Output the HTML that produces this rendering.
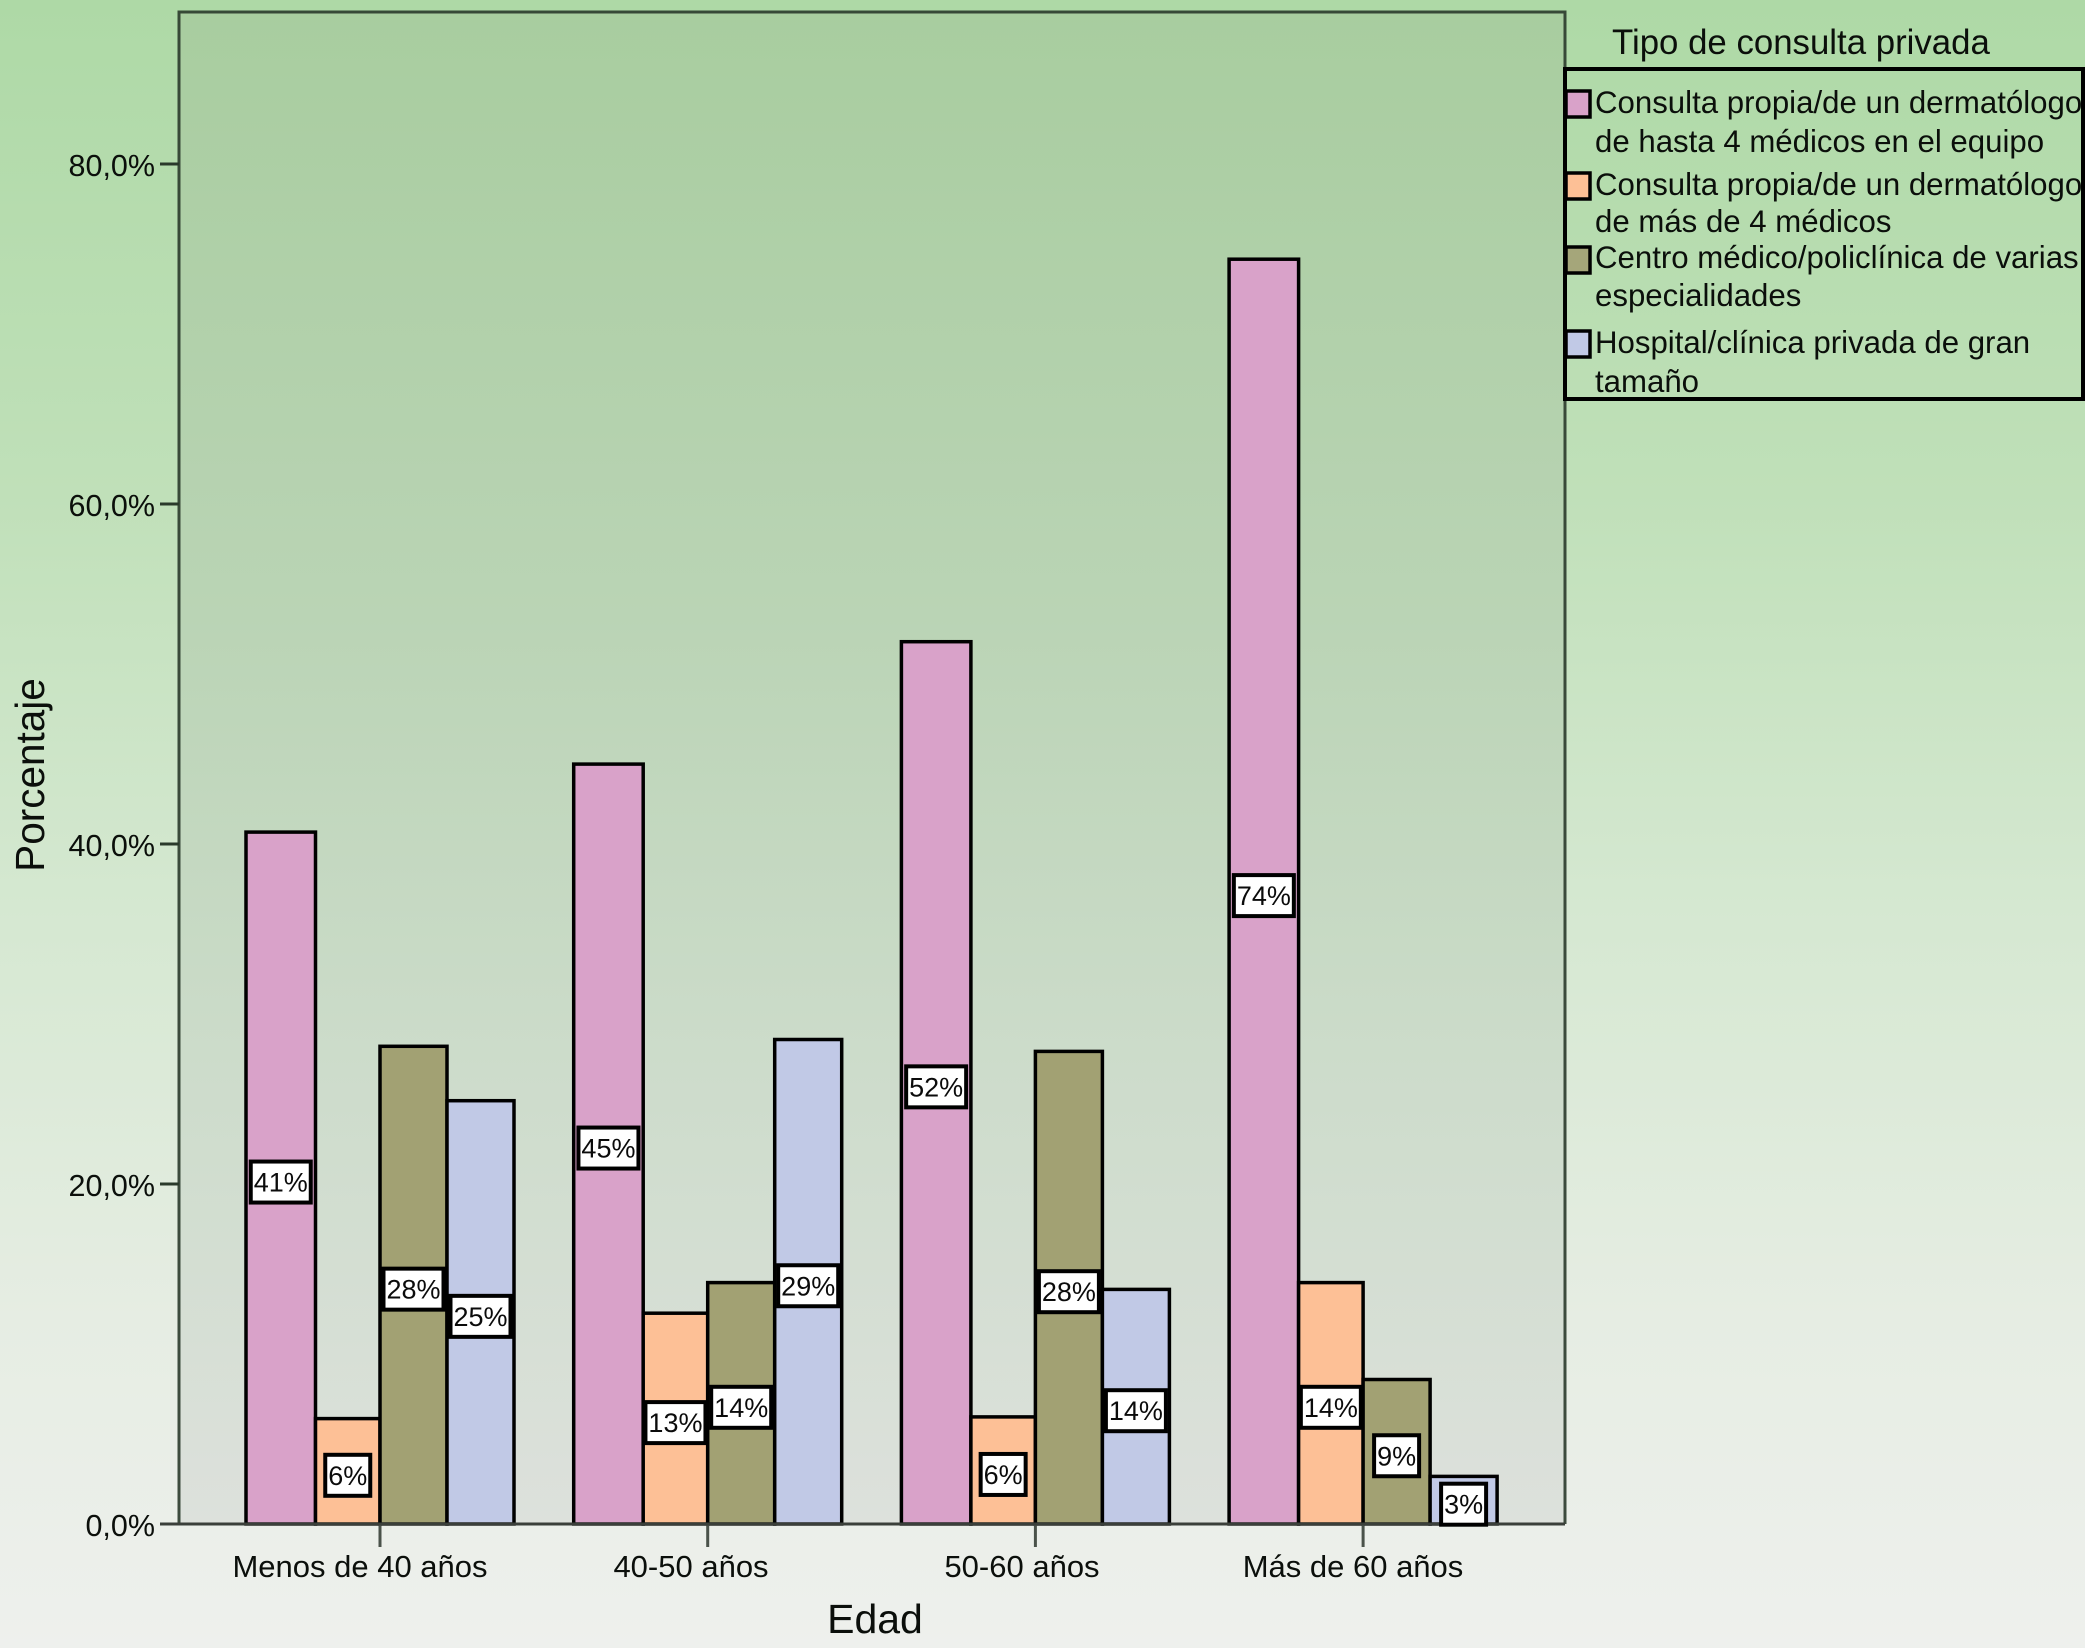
<!DOCTYPE html>
<html lang="es">
<head>
<meta charset="utf-8">
<title>Tipo de consulta privada por edad</title>
<style>
html,body{margin:0;padding:0;background:#eef0ed;}
svg{display:block;font-family:"Liberation Sans",Arial,sans-serif;}
</style>
</head>
<body>
<svg id="chart" xmlns="http://www.w3.org/2000/svg" width="2085" height="1648" viewBox="0 0 2085 1648">
  <defs>
    <linearGradient id="bgGrad" x1="0" y1="0" x2="0" y2="1">
      <stop offset="0" stop-color="#aed9a6"/>
      <stop offset="0.3" stop-color="#c0e0b9"/>
      <stop offset="0.55" stop-color="#d5e8d1"/>
      <stop offset="0.8" stop-color="#e6ede3"/>
      <stop offset="1" stop-color="#eef0ed"/>
    </linearGradient>
    <linearGradient id="plotGrad" x1="0" y1="0" x2="0" y2="1">
      <stop offset="0" stop-color="#a8cd9f"/>
      <stop offset="0.4" stop-color="#bad4b5"/>
      <stop offset="0.7" stop-color="#cddccb"/>
      <stop offset="1" stop-color="#dde1dc"/>
    </linearGradient>
    <clipPath id="legendClip"><rect x="1565" y="69" width="518" height="330"/></clipPath>
  </defs>
  <rect x="0" y="0" width="2085" height="1648" fill="url(#bgGrad)"/>
  <rect x="179" y="12" width="1386" height="1512" fill="url(#plotGrad)"/>
  <g id="marks"></g>
  <path d="M179 1524 V12 H1565 V1524" fill="none" stroke="#2a3a2b" stroke-width="3" opacity="0.9"/>
  <g id="axes"></g>
  <g id="labels"></g>
  <text transform="translate(44,775) rotate(-90)" text-anchor="middle" font-size="40.5" fill="#0b0f0b">Porcentaje</text>
  <text x="875" y="1633" text-anchor="middle" font-size="41" fill="#0b0f0b">Edad</text>

  <g>
    <text x="1612" y="54" font-size="34.8" fill="#0b0f0b">Tipo de consulta privada</text>
    <rect x="1565" y="69" width="518" height="330" fill="none" stroke="#000" stroke-width="4"/>
    <g clip-path="url(#legendClip)" font-size="31.2" fill="#0b0f0b">
      <rect x="1566" y="91" width="24" height="26" fill="#d9a2c9" stroke="#000" stroke-width="3.5"/>
      <text x="1595" y="113">Consulta propia/de un dermatólogo</text>
      <text x="1595" y="152">de hasta 4 médicos en el equipo</text>
      <rect x="1566" y="173" width="24" height="26" fill="#fdc096" stroke="#000" stroke-width="3.5"/>
      <text x="1595" y="195">Consulta propia/de un dermatólogo</text>
      <text x="1595" y="232">de más de 4 médicos</text>
      <rect x="1566" y="247" width="24" height="26" fill="#a5a67a" stroke="#000" stroke-width="3.5"/>
      <text x="1595" y="268">Centro médico/policlínica de varias</text>
      <text x="1595" y="306">especialidades</text>
      <rect x="1566" y="331" width="24" height="26" fill="#c1c9e6" stroke="#000" stroke-width="3.5"/>
      <text x="1595" y="353">Hospital/clínica privada de gran</text>
      <text x="1595" y="392">tamaño</text>
    </g>
  </g>
</svg>
<script>
const categories = ["Menos de 40 años", "40-50 años", "50-60 años", "Más de 60 años"];
const seriesNames = ["propia-hasta-4", "propia-mas-4", "centro-medico", "hospital"];
const propiaHasta4 = [40.7, 44.7, 51.9, 74.4];
const propiaMas4 = [6.2, 12.4, 6.3, 14.2];
const centroMedico = [28.1, 14.2, 27.8, 8.5];
const hospital = [24.9, 28.5, 13.8, 2.8];
const propiaHasta4Labels = ["41%", "45%", "52%", "74%"];
const propiaMas4Labels = ["6%", "13%", "6%", "14%"];
const centroMedicoLabels = ["28%", "14%", "28%", "9%"];
const hospitalLabels = ["25%", "29%", "14%", "3%"];
const yTicks = [0, 20, 40, 60, 80];
const yTickLabels = ["0,0%", "20,0%", "40,0%", "60,0%", "80,0%"];

const seriesValues = [propiaHasta4, propiaMas4, centroMedico, hospital];
const seriesLabels = [propiaHasta4Labels, propiaMas4Labels, centroMedicoLabels, hospitalLabels];
const seriesColors = ["#d9a2c9", "#fdc096", "#a2a173", "#c1c9e6"];

const NS = "http://www.w3.org/2000/svg";
const marks = document.getElementById("marks");
const axes = document.getElementById("axes");
const labelsLayer = document.getElementById("labels");

function yScale(v) { return 1524 - v * 17.0; }
function xTick(i) { return 380 + i * 327.7; }
function xLabel(i) { return 360 + i * 331; }
function barEdge(i, s) { return xTick(i) + (s - 2) * 67 + (s === 1 ? 2.5 : 0); }

function make(tag, attrs, parent) {
  const el = document.createElementNS(NS, tag);
  for (const k in attrs) el.setAttribute(k, attrs[k]);
  parent.appendChild(el);
  return el;
}

categories.forEach(function (cat, i) {
  seriesValues.forEach(function (vals, s) {
    const x0 = barEdge(i, s);
    const x1 = barEdge(i, s + 1);
    const top = yScale(vals[i]);
    const bar = make("rect", {x: x0, y: top, width: x1 - x0, height: yScale(0) - top, fill: seriesColors[s], stroke: "#000", "stroke-width": 3.5}, marks);
    
    
  });
});

categories.forEach(function (cat, i) {
  seriesValues.forEach(function (vals, s) {
    const cx = (barEdge(i, s) + barEdge(i, s + 1)) / 2;
    const cy = (yScale(vals[i]) + yScale(0)) / 2 + 4;
    const txt = seriesLabels[s][i];
    const w = txt.length > 2 ? 60 : 45;
    const box = make("rect", {x: cx - w / 2, y: cy - 20.5, width: w, height: 41, fill: "#fff", stroke: "#000", "stroke-width": 4}, labelsLayer);
    
    
    const t = make("text", {x: cx, y: cy + 9.5, "text-anchor": "middle", "font-size": 27, fill: "#0b0b0b"}, labelsLayer);
    t.textContent = txt;
    
    
  });
});

yTicks.forEach(function (v, k) {
  const y = yScale(v);
  const tick = make("line", {x1: 160, x2: 179, y1: y, y2: y, stroke: "#2a3a2b", "stroke-width": 3}, axes);
  
  
  const t = make("text", {x: 155, y: y + 12, "text-anchor": "end", "font-size": 30.5, fill: "#0b0f0b"}, axes);
  t.textContent = yTickLabels[k];
  
  
});

categories.forEach(function (cat, i) {
  const x = xTick(i);
  const tick = make("line", {x1: x, x2: x, y1: 1524, y2: 1547, stroke: "#4a524a", "stroke-width": 3}, axes);
  
  
  const t = make("text", {x: xLabel(i), y: 1577, "text-anchor": "middle", "font-size": 31, fill: "#0b0f0b"}, axes);
  t.textContent = cat;
  
  
});

const baseline = make("line", {x1: 160, x2: 1565, y1: 1524, y2: 1524, stroke: "#3a3f3a", "stroke-width": 3}, axes);


</script>
</body>
</html>
